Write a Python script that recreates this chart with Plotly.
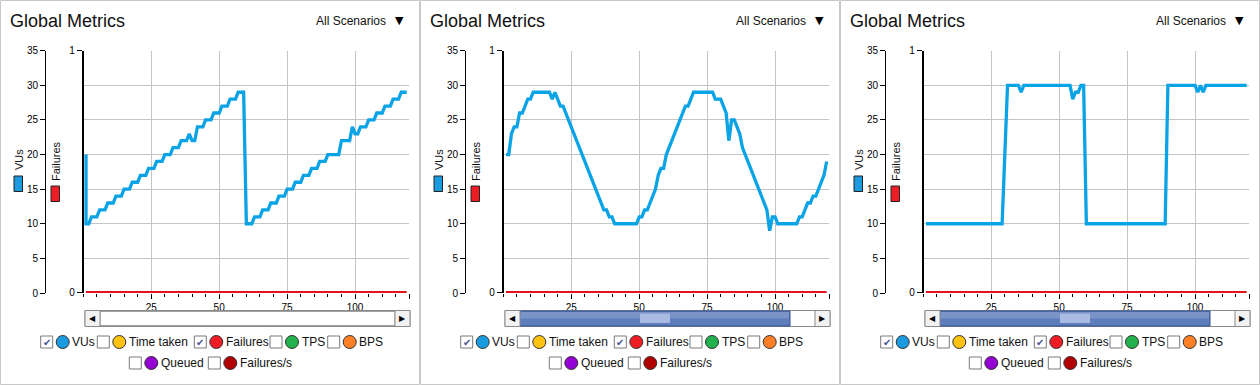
import plotly.graph_objects as go

# ---------------- data ----------------
seconds = list(range(1, 120))

# panel 1 starts with one extra sample (20 VUs) at t=1 before dropping to 10
times_a = [1] + seconds
vus_a = [20,
         10, 10, 11, 11, 11, 12, 12, 12, 13, 13, 13, 14, 14, 14, 15, 15, 15, 16, 16, 16,
         17, 17, 17, 18, 18, 18, 19, 19, 19, 20, 20, 20, 21, 21, 21, 22, 22, 22, 23, 22, 22,
         24, 24, 24, 25, 25, 25, 26, 26, 26, 27, 27, 27, 28, 28, 28, 29, 29, 29,
         10, 10, 10, 11, 11, 11, 12, 12, 12, 13, 13, 13, 14, 14, 14, 15, 15, 15, 16, 16, 16,
         17, 17, 17, 18, 18, 18, 19, 19, 19, 20, 20, 20, 20, 20, 22, 22, 22, 22, 24, 23, 23,
         24, 24, 24, 25, 25, 25, 26, 26, 26, 27, 27, 27, 28, 28, 28, 29, 29, 29]

vus_b = [20, 20, 23, 24, 24, 26, 26, 27, 28, 28, 29, 29, 29, 29, 29, 29, 29, 28, 29, 28,
         27, 27, 26, 25, 24, 23, 22, 21, 20, 19, 18, 17, 16, 15, 14, 13, 12, 12, 11, 11,
         10, 10, 10, 10, 10, 10, 10, 10, 10, 11, 11, 12, 12, 13, 14, 15, 17, 18, 18, 20,
         21, 22, 23, 24, 25, 26, 27, 27, 28, 29, 29, 29, 29, 29, 29, 29, 29, 28, 28, 28,
         27, 26, 22, 25, 25, 24, 23, 21, 20, 19, 18, 17, 16, 15, 14, 13, 12, 9, 11, 11,
         10, 10, 10, 10, 10, 10, 10, 10, 11, 11, 12, 13, 13, 14, 14, 15, 16, 17, 19]

vus_c = [10, 10, 10, 10, 10, 10, 10, 10, 10, 10, 10, 10, 10, 10, 10, 10, 10, 10, 10, 10,
         10, 10, 10, 10, 10, 10, 10, 10, 10, 20, 30, 30, 30, 30, 30, 29, 30, 30, 30, 30,
         30, 30, 30, 30, 30, 30, 30, 30, 30, 30, 30, 30, 30, 30, 28, 29, 29, 30, 30, 10,
         10, 10, 10, 10, 10, 10, 10, 10, 10, 10, 10, 10, 10, 10, 10, 10, 10, 10, 10, 10,
         10, 10, 10, 10, 10, 10, 10, 10, 10, 30, 30, 30, 30, 30, 30, 30, 30, 30, 30, 30,
         29, 30, 29, 30, 30, 30, 30, 30, 30, 30, 30, 30, 30, 30, 30, 30, 30, 30, 30]

failures_a = [0] * len(times_a)
failures_b = [0] * len(seconds)
failures_c = [0] * len(seconds)

vu_ticks = [0, 5, 10, 15, 20, 25, 30, 35]
vu_grid = [5, 10, 15, 20, 25, 30]
fail_ticks = [0, 1]
x_ticks = [25, 50, 75, 100, 120]
x_ticktext = ["25", "50", "75", "100", ""]

legend_names = ["VUs", "Time taken", "Failures", "TPS", "BPS", "Queued", "Failures/s"]
legend_colors = ["#1a9be0", "#ffc20e", "#ee1c25", "#22b14c", "#ff7f27", "#9400d3", "#b00000"]
legend_checked = [True, False, True, False, False, False, False]

title_text = "Global Metrics"
scenario_text = "All Scenarios"

# ---------------- style / layout ----------------
W, H = 1260, 385
PW = 420
VU_COLOR = "#0aa3e6"
FAIL_COLOR = "#e3121b"
GRID = "#c4c4c4"
FONT = "Liberation Sans, Arial, sans-serif"
TXT = "#111111"

legend_cb_left = [40.7, 97.3, 194.3, 270, 327.7, 129.3, 208.3]
legend_row_y = [342, 342, 342, 342, 342, 363, 363]

x_left_px, x_right_px = 83.3, 409.4
plot_top_px, plot_bottom_px = 50.7, 293.0


def X(px):
    return px / W


def Y(py):
    return 1 - py / H


fig = go.Figure()
layout = {}
shapes = []
annotations = []

panels = [(times_a, vus_a, failures_a), (seconds, vus_b, failures_b), (seconds, vus_c, failures_c)]
thumb_full = [True, False, False]

for p, (t, v, f) in enumerate(panels):
    ox = p * PW
    xa = "x" if p == 0 else f"x{p + 1}"
    xkey = "xaxis" if p == 0 else f"xaxis{p + 1}"
    yvn, yfn = 2 * p + 1, 2 * p + 2
    yv = "y" if yvn == 1 else f"y{yvn}"
    yvkey = "yaxis" if yvn == 1 else f"yaxis{yvn}"
    yf = f"y{yfn}"
    yfkey = f"yaxis{yfn}"

    fig.add_trace(go.Scatter(x=t, y=v, xaxis=xa, yaxis=yv, mode="lines",
                             line=dict(color=VU_COLOR, width=3.3), hoverinfo="skip",
                             showlegend=False))
    fig.add_trace(go.Scatter(x=t, y=f, xaxis=xa, yaxis=yf, mode="lines",
                             line=dict(color=FAIL_COLOR, width=2), hoverinfo="skip",
                             showlegend=False))

    tickfont = dict(family=FONT, size=10, color="#000")
    layout[xkey] = dict(domain=[X(ox + x_left_px), X(ox + x_right_px)], range=[0, 120],
                        anchor=yv, tickmode="array", tickvals=x_ticks, ticktext=x_ticktext,
                        ticks="outside", ticklen=5, tickcolor="#000", tickwidth=1,
                        showgrid=True, gridcolor=GRID, gridwidth=1, showline=False,
                        zeroline=False, tickfont=tickfont, fixedrange=True, automargin=False,
                        minor=dict(tickmode="linear", tick0=0, dtick=5, ticks="outside",
                                   ticklen=3, tickcolor="#000", showgrid=False))
    layout[yvkey] = dict(domain=[Y(plot_bottom_px), Y(plot_top_px)], range=[0, 35],
                         anchor="free", position=X(ox + 45), side="left",
                         tickmode="array", tickvals=vu_ticks, ticks="outside", ticklen=5,
                         tickcolor="#000", showline=True, linecolor="#000", linewidth=1,
                         showgrid=False, zeroline=False, tickfont=tickfont, fixedrange=True,
                         automargin=False,
                         minor=dict(tickmode="array", tickvals=vu_grid, showgrid=True,
                                    gridcolor=GRID, gridwidth=1, ticks=""))
    layout[yfkey] = dict(overlaying=yv, anchor="free", position=X(ox + 82.5), side="left",
                         range=[-0.004, 1], tickmode="array", tickvals=fail_ticks,
                         ticks="outside", ticklen=5, tickcolor="#000", showline=True,
                         linecolor="#000", linewidth=1.5, showgrid=False, zeroline=False,
                         tickfont=tickfont, fixedrange=True, automargin=False)

    # panel frame
    shapes.append(dict(type="rect", xref="paper", yref="paper", x0=X(ox + 0.5), x1=X(ox + 419.5),
                       y0=Y(384.5), y1=Y(0.5), line=dict(color="#c8c8c8", width=1),
                       fillcolor="rgba(0,0,0,0)", layer="below"))
    # title + scenario selector
    annotations.append(dict(text=title_text, xref="paper", yref="paper", x=X(ox + 8), y=Y(21.5),
                            xanchor="left", yanchor="middle", showarrow=False,
                            font=dict(family=FONT, size=18, color=TXT)))
    annotations.append(dict(text=scenario_text, xref="paper", yref="paper", x=X(ox + 388),
                            y=Y(21.5), xanchor="right", yanchor="middle", showarrow=False,
                            font=dict(family=FONT, size=12, color=TXT)))
    annotations.append(dict(text="▼", xref="paper", yref="paper", x=X(ox + 399.5), y=Y(20.5),
                            xanchor="center", yanchor="middle", showarrow=False,
                            font=dict(family="DejaVu Sans", size=11, color="#000")))

    # axis side labels with color keys
    annotations.append(dict(text="VUs", xref="paper", yref="paper", x=X(ox + 19), y=Y(160),
                            xanchor="center", yanchor="middle", showarrow=False, textangle=-90,
                            font=dict(family=FONT, size=11, color=TXT)))
    annotations.append(dict(text="Failures", xref="paper", yref="paper", x=X(ox + 56), y=Y(161),
                            xanchor="center", yanchor="middle", showarrow=False, textangle=-90,
                            font=dict(family=FONT, size=11, color=TXT)))
    shapes.append(dict(type="rect", xref="paper", yref="paper", x0=X(ox + 14), x1=X(ox + 22.5),
                       y0=Y(191.5), y1=Y(176), fillcolor=legend_colors[0],
                       line=dict(color="#222", width=1)))
    shapes.append(dict(type="rect", xref="paper", yref="paper", x0=X(ox + 51), x1=X(ox + 59.5),
                       y0=Y(201.5), y1=Y(186), fillcolor=legend_colors[2],
                       line=dict(color="#222", width=1)))

    # scrollbar
    sb_top, sb_bot = 310.5, 326.5
    shapes.append(dict(type="rect", xref="paper", yref="paper", x0=X(ox + 85), x1=X(ox + 410),
                       y0=Y(sb_bot), y1=Y(sb_top), fillcolor="#ffffff",
                       line=dict(color="#8a8a8a", width=1)))
    if thumb_full[p]:
        shapes.append(dict(type="rect", xref="paper", yref="paper", x0=X(ox + 100),
                           x1=X(ox + 395), y0=Y(sb_bot - 1), y1=Y(sb_top + 1),
                           fillcolor="#ffffff", line=dict(color="#a0a0a0", width=1)))
    else:
        shapes.append(dict(type="rect", xref="paper", yref="paper", x0=X(ox + 99.5),
                           x1=X(ox + 370), y0=Y(sb_bot - 0.5), y1=Y(sb_top + 0.5),
                           fillcolor="#5d7dbd", line=dict(color="#34518f", width=1)))
        shapes.append(dict(type="rect", xref="paper", yref="paper", x0=X(ox + 100.5),
                           x1=X(ox + 369), y0=Y(318.5), y1=Y(sb_top + 1.5),
                           fillcolor="rgba(255,255,255,0.18)", line=dict(width=0)))
        shapes.append(dict(type="rect", xref="paper", yref="paper", x0=X(ox + 220),
                           x1=X(ox + 250), y0=Y(323), y1=Y(313.5),
                           fillcolor="#a9bbe0", line=dict(width=0)))
    for bx0 in (85, 395):
        shapes.append(dict(type="rect", xref="paper", yref="paper", x0=X(ox + bx0),
                           x1=X(ox + bx0 + 15), y0=Y(sb_bot), y1=Y(sb_top),
                           fillcolor="#f2f2f2", line=dict(color="#8a8a8a", width=1)))
    annotations.append(dict(text="◀", xref="paper", yref="paper", x=X(ox + 92.5), y=Y(318.5),
                            xanchor="center", yanchor="middle", showarrow=False,
                            font=dict(family="DejaVu Sans", size=8, color="#000")))
    annotations.append(dict(text="▶", xref="paper", yref="paper", x=X(ox + 402.5), y=Y(318.5),
                            xanchor="center", yanchor="middle", showarrow=False,
                            font=dict(family="DejaVu Sans", size=8, color="#000")))

    # legend
    for name, col, chk, cbx, ry in zip(legend_names, legend_colors, legend_checked,
                                       legend_cb_left, legend_row_y):
        shapes.append(dict(type="rect", xref="paper", yref="paper", x0=X(ox + cbx),
                           x1=X(ox + cbx + 12), y0=Y(ry + 6), y1=Y(ry - 6),
                           fillcolor="#ffffff", line=dict(color="#7a7a7a", width=1)))
        if chk:
            annotations.append(dict(text="✔", xref="paper", yref="paper", x=X(ox + cbx + 6),
                                    y=Y(ry), xanchor="center", yanchor="middle",
                                    showarrow=False,
                                    font=dict(family="DejaVu Sans", size=10, color="#3f5492")))
        shapes.append(dict(type="circle", xref="paper", yref="paper", x0=X(ox + cbx + 15.5),
                           x1=X(ox + cbx + 28.5), y0=Y(ry + 6.5), y1=Y(ry - 6.5),
                           fillcolor=col, line=dict(color="#333333", width=1)))
        annotations.append(dict(text=name, xref="paper", yref="paper", x=X(ox + cbx + 29.5),
                                y=Y(ry), xanchor="left", yanchor="middle", showarrow=False,
                                font=dict(family=FONT, size=12, color=TXT)))

fig.update_layout(width=W, height=H, margin=dict(l=0, r=0, t=0, b=0, autoexpand=False),
                  paper_bgcolor="#ffffff", plot_bgcolor="#ffffff", showlegend=False,
                  shapes=shapes, annotations=annotations, **layout)

fig.write_html("out.html", post_script="document.body.style.margin='0';",
               config={"displayModeBar": False})
